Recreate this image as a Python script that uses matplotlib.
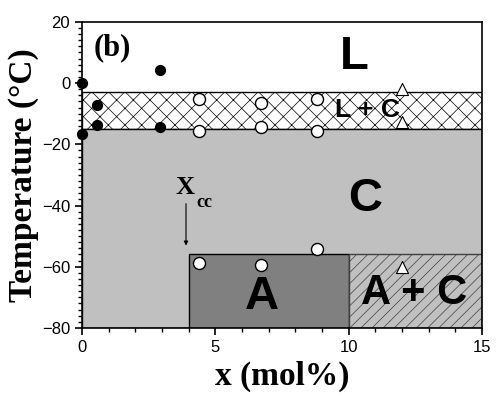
import matplotlib
matplotlib.use("Agg")
import matplotlib.pyplot as plt
from matplotlib.patches import Rectangle

# phase boundaries
t_liq = -3
t_sol = -15
t_ac = -56
x_cc = 4
x_ac = 10

# measured points
filled_x = [0, 0.56, 0.56, 0, 2.92, 2.92]
filled_y = [0, -7, -13.7, -16.7, 4.3, -14.4]
open_x = [4.4, 4.4, 6.7, 6.7, 8.8, 8.8, 4.4, 6.7, 8.8]
open_y = [-5.3, -15.8, -6.5, -14.4, -5.3, -15.8, -58.8, -59.5, -54.2]
tri_x = [12.0, 12.0, 12.0]
tri_y = [-2.0, -12.8, -60.0]

plt.rcParams['hatch.linewidth'] = 0.5

fig = plt.figure(figsize=(5, 3.98), dpi=100)
ax = fig.add_axes([0.164, 0.176, 0.8, 0.769])
ax.set_xlim(0, 15)
ax.set_ylim(-80, 20)

# regions
ax.add_patch(Rectangle((0, t_liq), 15, 20 - t_liq, facecolor='white', edgecolor='none', zorder=0))
ax.add_patch(Rectangle((0, t_sol), 15, t_liq - t_sol, facecolor='white', edgecolor='black',
                       hatch='xx', linewidth=1, zorder=1))
ax.add_patch(Rectangle((0, -80), 15, t_sol + 80, facecolor='#c0c0c0', edgecolor='black', linewidth=1, zorder=1))
ax.add_patch(Rectangle((x_cc, -80), x_ac - x_cc, t_ac + 80, facecolor='#808080', edgecolor='black',
                       linewidth=1, zorder=2))
ax.add_patch(Rectangle((x_ac, -80), 15 - x_ac, t_ac + 80, facecolor='#c0c0c0', edgecolor='#404040',
                       hatch='///', linewidth=1, zorder=2))

ax.scatter(filled_x, filled_y, s=50, c='black', zorder=5, clip_on=False)
ax.scatter(open_x, open_y, s=75, facecolors='white', edgecolors='black', linewidths=1, zorder=5)
ax.scatter(tri_x, tri_y, s=75, marker='^', facecolors='white', edgecolors='black', linewidths=0.8, zorder=5)

sans = 'Liberation Sans'
serif = 'Liberation Serif'
ax.text(10.2, 8.5, 'L', fontsize=34, fontweight='bold', family=sans, ha='center', va='center', zorder=6)
ax.text(10.7, -8.7, 'L + C', fontsize=19, fontweight='bold', family=sans, ha='center', va='center', zorder=6)
ax.text(10.6, -38, 'C', fontsize=34, fontweight='bold', family=sans, ha='center', va='center', zorder=6)
ax.text(6.75, -70, 'A', fontsize=34, fontweight='bold', family=sans, ha='center', va='center', zorder=6)
ax.text(12.45, -68.5, 'A + C', fontsize=30, fontweight='bold', family=sans, ha='center', va='center', zorder=6)
ax.text(0.45, 11.5, '(b)', fontsize=22, fontweight='bold', family=serif, ha='left', va='center', zorder=6)
ax.text(3.85, -34, 'X', fontsize=19, fontweight='bold', family=serif, ha='center', va='center', zorder=6)
ax.text(4.3, -39, 'cc', fontsize=13, fontweight='bold', family=serif, ha='left', va='center', zorder=6)
ax.annotate('', xy=(3.9, -54), xytext=(3.9, -38.5),
            arrowprops=dict(arrowstyle='-|>', color='black', lw=0.8, mutation_scale=6), zorder=6)

ax.set_xticks([0, 5, 10, 15])
ax.set_xticks(range(0, 16), minor=True)
ax.set_yticks([-80, -60, -40, -20, 0, 20])
ax.set_yticks(range(-80, 21, 2), minor=True)
ax.tick_params(which='major', direction='out', length=5, width=1.2, labelsize=12)
ax.tick_params(which='minor', direction='out', length=3, width=1)
for lab in ax.get_xticklabels() + ax.get_yticklabels():
    lab.set_family(sans)
ax.set_yticklabels(['\u221280', '\u221260', '\u221240', '\u221220', '0', '20'])
for sp in ax.spines.values():
    sp.set_linewidth(1.2)

ax.set_xlabel('x (mol%)', fontsize=24, fontweight='bold', family=serif, labelpad=4)
ax.set_ylabel('Temperature (\u00b0C)', fontsize=24, fontweight='bold', family=serif, labelpad=2)

fig.savefig('out.png', dpi=100)
